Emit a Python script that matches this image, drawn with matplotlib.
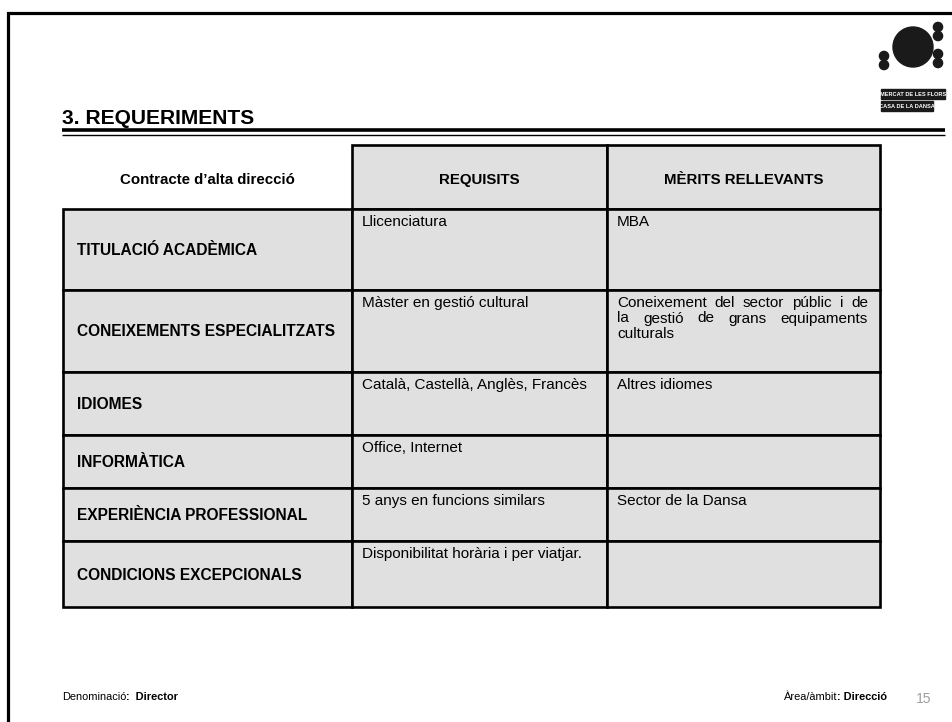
import matplotlib
matplotlib.use("Agg")
import matplotlib.pyplot as plt
from matplotlib.patches import Rectangle, Circle

plt.rcParams['font.family'] = ['Liberation Sans', 'DejaVu Sans']

# slide content
title = "3. REQUERIMENTS"
corner_header = "Contracte d\u2019alta direcció"
col_headers = ["REQUISITS", "MÈRITS RELLEVANTS"]
row_labels = ["TITULACIÓ ACADÈMICA", "CONEIXEMENTS ESPECIALITZATS", "IDIOMES",
              "INFORMÀTICA", "EXPERIÈNCIA PROFESSIONAL", "CONDICIONS EXCEPCIONALS"]
requisits = ["Llicenciatura", "Màster en gestió cultural",
             "Català, Castellà, Anglès, Francès", "Office, Internet",
             "5 anys en funcions similars", "Disponibilitat horària i per viatjar."]
merits = ["MBA",
          "Coneixement del sector públic i de la gestió de grans equipaments culturals",
          "Altres idiomes", "", "Sector de la Dansa", ""]
footer_left = ("Denominació", ":  Director")
footer_right = ("Àrea/àmbit", ": Direcció")
page_num = "15"

W, H = 952, 722
fig = plt.figure(figsize=(W / 100, H / 100), dpi=100)
ax = fig.add_axes([0, 0, 1, 1])
ax.set_xlim(0, W)
ax.set_ylim(H, 0)
ax.axis('off')
fig.canvas.draw()
rend = fig.canvas.get_renderer()

def px(p):
    return p * 0.72

def text_w(s, **kw):
    t = ax.text(0, 0, s, **kw)
    w = t.get_window_extent(rend).width
    t.remove()
    return w

# frame
ax.plot([8, 8, W], [H, 13, 13], color='black', lw=2.3, solid_joinstyle='miter')

# title and double rule
ax.text(62, 118, title, fontsize=px(21), fontweight='bold', va='center', ha='left')
ax.plot([62, 945], [129.5, 129.5], color='black', lw=2.6, solid_capstyle='butt')
ax.plot([62, 945], [134.5, 134.5], color='black', lw=1.0, solid_capstyle='butt')

# logo
ax.add_patch(Circle((913, 47), 20, color='#1a1a1a'))
for y in (56, 65):
    ax.add_patch(Circle((884, y), 4.6, color='#1a1a1a'))
for y in (27, 36, 54, 63):
    ax.add_patch(Circle((938, y), 4.6, color='#1a1a1a'))
ax.add_patch(Rectangle((881, 89), 64, 10, color='#1a1a1a'))
ax.add_patch(Rectangle((881, 101), 52, 10, color='#1a1a1a'))
ax.text(913, 94.2, "MERCAT DE LES FLORS", color='white', fontsize=px(5.6),
        fontweight='bold', ha='center', va='center')
ax.text(907, 106.2, "CASA DE LA DANSA", color='white', fontsize=px(5.6),
        fontweight='bold', ha='center', va='center')

# table geometry
col_x = [63, 352, 607, 880]
head_top = 145
row_y = [209, 290, 372, 435, 488, 541, 607]
gray = '#e0e0e0'
lw_cell = 1.9
fs_head = px(15)
fs_lab = px(15.5)
fs_body = px(15.3)

# header
ax.text((col_x[0] + col_x[1]) / 2, (head_top + row_y[0]) / 2 + 3, corner_header,
        fontsize=fs_head, fontweight='bold', ha='center', va='center')
for j, h in enumerate(col_headers):
    x0, x1 = col_x[j + 1], col_x[j + 2]
    ax.add_patch(Rectangle((x0, head_top), x1 - x0, row_y[0] - head_top,
                           facecolor=gray, edgecolor='black', lw=lw_cell))
    ax.text((x0 + x1) / 2, (head_top + row_y[0]) / 2 + 3, h, fontsize=fs_head,
            fontweight='bold', ha='center', va='center')

def draw_justified(s, x0, x1, y, dy, wrap):
    words = s.split()
    lines, cur = [], []
    for w in words:
        trial = " ".join(cur + [w])
        if cur and text_w(trial, fontsize=fs_body) > wrap:
            lines.append(cur)
            cur = [w]
        else:
            cur.append(w)
    lines.append(cur)
    for k, ln in enumerate(lines):
        yy = y + k * dy
        if k == len(lines) - 1 or len(ln) == 1:
            ax.text(x0, yy, " ".join(ln), fontsize=fs_body, va='center', ha='left')
            continue
        widths = [text_w(w, fontsize=fs_body) for w in ln]
        gap = (x1 - x0 - sum(widths)) / (len(ln) - 1)
        xx = x0
        for w, ww in zip(ln, widths):
            ax.text(xx, yy, w, fontsize=fs_body, va='center', ha='left')
            xx += ww + gap

# body rows
for i, lab in enumerate(row_labels):
    y0, y1 = row_y[i], row_y[i + 1]
    for j in range(3):
        ax.add_patch(Rectangle((col_x[j], y0), col_x[j + 1] - col_x[j], y1 - y0,
                               facecolor=gray, edgecolor='black', lw=lw_cell))
    ax.text(col_x[0] + 14, (y0 + y1) / 2 + 1, lab, fontsize=fs_lab,
            fontweight='bold', ha='left', va='center')
    ax.text(col_x[1] + 10, y0 + 13, requisits[i], fontsize=fs_body,
            ha='left', va='center')
    if merits[i]:
        draw_justified(merits[i], col_x[2] + 10, col_x[3] - 12, y0 + 13, 15.5, 242)

# footer
fs_foot = px(11)
ax.text(62, 697, footer_left[0], fontsize=fs_foot, va='center', ha='left')
x = 62 + text_w(footer_left[0], fontsize=fs_foot)
ax.text(x, 697, footer_left[1], fontsize=fs_foot, fontweight='bold',
        va='center', ha='left')

right_end = 887
w_bold = text_w(footer_right[1], fontsize=fs_foot, fontweight='bold')
ax.text(right_end, 697, footer_right[1], fontsize=fs_foot, fontweight='bold',
        va='center', ha='right')
ax.text(right_end - w_bold, 697, footer_right[0], fontsize=fs_foot,
        va='center', ha='right')
ax.text(916, 699, page_num, fontsize=px(14), color='#a0a0a0',
        va='center', ha='left')

fig.savefig("out.png", dpi=100)
